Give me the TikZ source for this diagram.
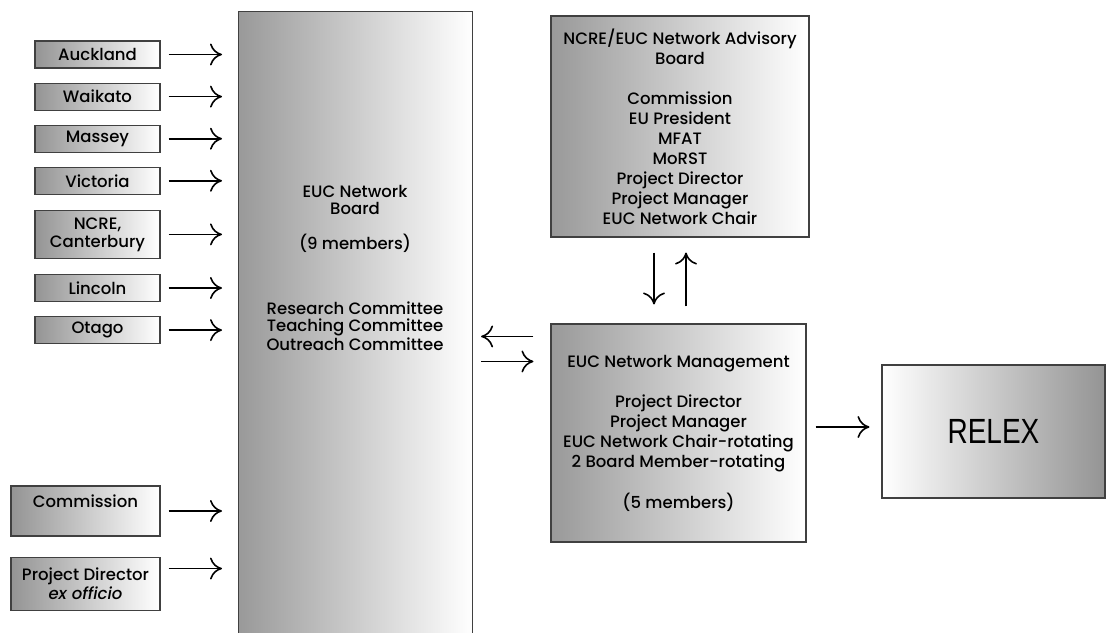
\documentclass[tikz,border=0pt]{standalone}
\usepackage{fontspec}
\setmainfont{Poppins}[UprightFont=* Medium, ItalicFont=* Medium Italic]
\newfontfamily\relexfont{Liberation Sans}
\usepackage{graphicx}
\usetikzlibrary{positioning,arrows.meta}

\begin{document}
\begin{tikzpicture}[
    x=1pt, y=-1pt,
    font=\fontsize{16.5}{19}\selectfont,
    unibox/.style={draw=black!75, line width=1.1pt, left color=black!42, right color=white, minimum width=125pt, minimum height=27pt, inner sep=0pt, align=center},
    widebox/.style={unibox, minimum width=149pt},
    bigbox/.style={draw=black!75, line width=1.1pt, left color=black!40, right color=white, inner sep=0pt, align=center},
    relexbox/.style={draw=black!75, line width=1.1pt, left color=white, right color=black!42, minimum width=223pt, minimum height=133pt},
    arr/.style={-{Computer Modern Rightarrow[length=12pt,width=22pt]}, line width=1.6pt},
    node distance=14pt,
]
    \useasboundingbox (0,0) rectangle (1107,632);
    %nodes
    \node[unibox] (auckland) at (97.5,54.5) {Auckland};
    \node[unibox] (waikato) [below=of auckland] {Waikato};
    \node[unibox] (massey) [below=of waikato] {Massey};
    \node[unibox] (victoria) [below=of massey] {Victoria};
    \node[unibox, minimum height=48pt] (canterbury) [below=15pt of victoria] {NCRE,\\[-1pt]Canterbury};
    \node[unibox] (lincoln) [below=15pt of canterbury] {Lincoln};
    \node[unibox] (otago) [below=of lincoln] {Otago};
    \node[widebox, minimum height=50pt] (commission) at (85.5,511) {Commission\\\mbox{}};
    \node[widebox, minimum height=53pt] (director) [below=20pt of commission] {Project Director\\\textit{ex officio}};

    \node[bigbox, minimum width=234pt, minimum height=650pt, anchor=north west] (board) at (238,11) {};
    \node[font=\fontsize{16.5}{17}\selectfont, align=center] (boardtext) at (355,268)
        {EUC Network\\Board\\[18pt](9 members)\\[48pt]Research Committee\\Teaching Committee\\Outreach Committee};

    \node[bigbox, minimum width=258pt, minimum height=221pt, font=\fontsize{16.5}{20}\selectfont] (advisory) at (680,126.5)
        {NCRE/EUC Network Advisory\\Board\\[20pt]Commission\\EU President\\MFAT\\MoRST\\Project Director\\Project Manager\\EUC Network Chair};
    \node[bigbox, minimum width=255pt, minimum height=218pt, font=\fontsize{16.5}{20}\selectfont] (management) at (678.5,433)
        {EUC Network Management\\[20pt]Project Director\\Project Manager\\EUC Network Chair-rotating\\2 Board Member-rotating\\[21pt](5 members)};
    \node[relexbox] (relex) at (993.5,431.5) {\relexfont\fontsize{35}{40}\selectfont\scalebox{0.8}[1]{RELEX}};

    \coordinate (dirarrow) at ([yshift=-12pt]director.north east);
    \coordinate (backarrow) at ([yshift=-13pt]management.north west);
    \coordinate (fwdarrow) at ([yshift=-38pt]management.north west);
    \coordinate (downarrow) at ([xshift=-26pt]advisory.south);
    \coordinate (uparrow) at ([xshift=6pt]advisory.south);
    \coordinate (relexarrow) at ([yshift=6pt]management.east);

    %lines
    \foreach \uni in {auckland,waikato,massey,victoria,canterbury,lincoln,otago,commission}
        \draw[arr, shorten <=8pt, shorten >=16pt] (\uni.east) -- (\uni.east -| board.west);
    \draw[arr, shorten <=8pt, shorten >=16pt] (dirarrow) -- (dirarrow -| board.west);
    \draw[arr, shorten <=17pt, shorten >=8pt] (backarrow) -- (backarrow -| board.east);
    \draw[arr, shorten <=8pt, shorten >=17pt] (fwdarrow -| board.east) -- (fwdarrow);
    \draw[arr, shorten <=15pt, shorten >=19pt] (downarrow) -- (downarrow |- management.north);
    \draw[arr, shorten <=17pt, shorten >=15pt] (uparrow |- management.north) -- (uparrow);
    \draw[arr, shorten <=9pt, shorten >=12pt] (relexarrow) -- (relexarrow -| relex.west);
\end{tikzpicture}
\end{document}
